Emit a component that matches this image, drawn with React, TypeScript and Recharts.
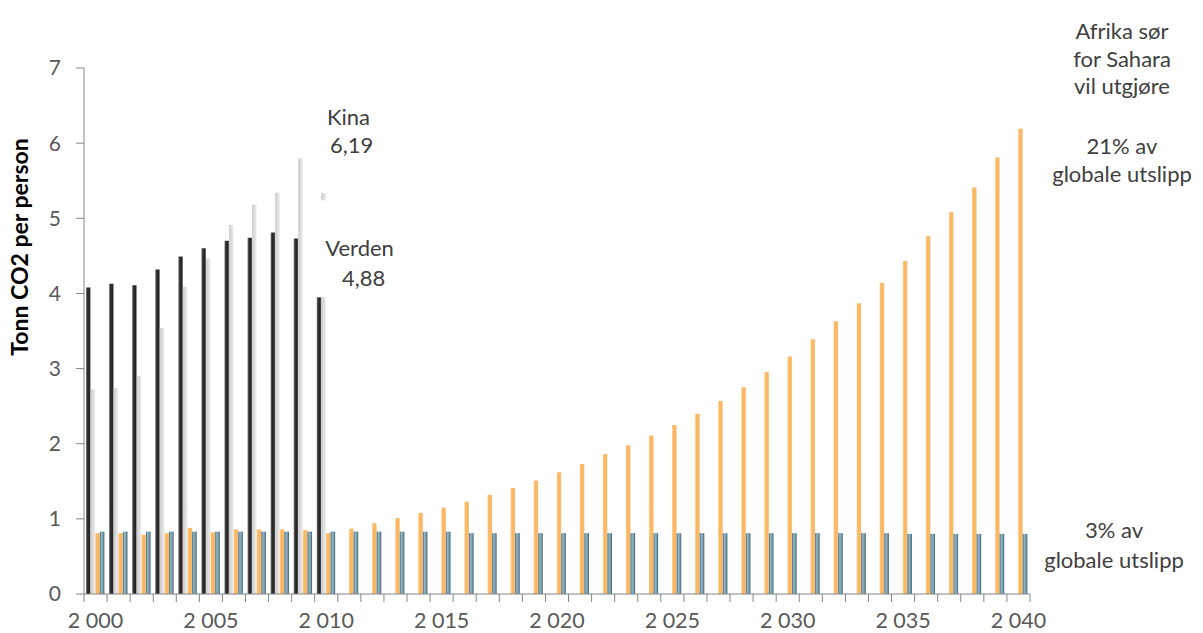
import React from 'react';
import { BarChart, Bar, XAxis, YAxis, LabelList } from 'recharts';

// Years on the category axis
const years = [
  2000, 2001, 2002, 2003, 2004, 2005, 2006, 2007, 2008, 2009,
  2010, 2011, 2012, 2013, 2014, 2015, 2016, 2017, 2018, 2019,
  2020, 2021, 2022, 2023, 2024, 2025, 2026, 2027, 2028, 2029,
  2030, 2031, 2032, 2033, 2034, 2035, 2036, 2037, 2038, 2039,
  2040,
];

// Tonn CO2 per person, historical (2000–2010)
const verden = [4.08, 4.13, 4.11, 4.32, 4.49, 4.6, 4.7, 4.74, 4.81, 4.73, 4.88];
const kina = [2.72, 2.74, 2.9, 3.54, 4.09, 4.46, 4.91, 5.18, 5.34, 5.8, 6.19];

// Afrika sør for Sahara: growth path towards Kina's level
const afrikaVekst = [
  0.81, 0.81, 0.79, 0.81, 0.88, 0.82, 0.86, 0.86, 0.86, 0.85,
  0.81, 0.87, 0.94, 1.01, 1.08, 1.15, 1.23, 1.32, 1.41, 1.51,
  1.62, 1.73, 1.86, 1.98, 2.11, 2.25, 2.4, 2.57, 2.75, 2.95,
  3.16, 3.39, 3.63, 3.87, 4.14, 4.43, 4.76, 5.08, 5.41, 5.81,
  6.19,
];

// Afrika sør for Sahara: today's level held flat
const afrikaFlat = [
  0.83, 0.83, 0.83, 0.83, 0.83, 0.83, 0.83, 0.83, 0.83, 0.83,
  0.83, 0.83, 0.83, 0.83, 0.83, 0.83, 0.81, 0.81, 0.81, 0.81,
  0.81, 0.81, 0.81, 0.81, 0.81, 0.81, 0.81, 0.81, 0.81, 0.81,
  0.81, 0.81, 0.81, 0.81, 0.81, 0.8, 0.8, 0.8, 0.8, 0.8,
  0.8,
];

const yTicks = [0, 1, 2, 3, 4, 5, 6, 7];
const labelYears = [2000, 2005, 2010, 2015, 2020, 2025, 2030, 2035, 2040];

const data = years.map((year, i) => ({
  year,
  verden: verden[i] ?? null,
  kina: kina[i] ?? null,
  afrikaVekst: afrikaVekst[i],
  afrikaFlat: afrikaFlat[i],
}));

const W = 1203;
const H = 633;
const M = { top: 68, right: 173, bottom: 9, left: 0 };
const Y_W = 84;
const X_H = 30;
const BAND = (W - M.right - M.left - Y_W) / years.length;

const FONT = 'Lato, "Open Sans", sans-serif';
const AXIS = '#868686';
const TEXT = '#404040';

const fmt = (v: number) => v.toFixed(2).replace('.', ',');
const fmtYear = (y: number) => {
  const s = String(y);
  return `${s.slice(0, 1)} ${s.slice(1)}`;
};

const XTick = (props: any) => {
  const { x, y, payload, index } = props;
  const left = x - BAND / 2;
  const right = x + BAND / 2;
  const isLast = index === years.length - 1;
  return (
    <g>
      <line x1={left} x2={left} y1={y} y2={y + 8} stroke={AXIS} strokeWidth={1} />
      {isLast && <line x1={right} x2={right} y1={y} y2={y + 8} stroke={AXIS} strokeWidth={1} />}
      {labelYears.includes(payload.value) && (
        <text x={x} y={y + 34} textAnchor="middle" fill="#595959" fontSize={21.5} fontFamily={FONT}>
          {fmtYear(payload.value)}
        </text>
      )}
    </g>
  );
};

// Value call-outs for Kina and Verden in 2010, drawn on the top-most series
const Callouts = (props: any) => {
  const { x, y, height, value, index } = props;
  if (years[index] !== 2010 || !value) return null;
  const base = y + height;
  const perUnit = height / value;
  const yOf = (v: number) => base - v * perUnit;
  const kTop = yOf(kina[index]);
  const vTop = yOf(verden[index]);
  const boxL = x - 15;
  return (
    <g fontFamily={FONT} fontSize={22} fill={TEXT}>
      <rect x={boxL} y={kTop - 29} width={85} height={93} fill="#ffffff" />
      <rect x={boxL} y={vTop - 27} width={88} height={97} fill="#ffffff" />
      <text x={x + 18} y={kTop - 4} textAnchor="middle">Kina</text>
      <text x={x + 21} y={kTop + 24} textAnchor="middle">{fmt(kina[index])}</text>
      <text x={x + 29} y={vTop + 29} textAnchor="middle">Verden</text>
      <text x={x + 33} y={vTop + 59} textAnchor="middle">{fmt(verden[index])}</text>
    </g>
  );
};

export default function App() {
  return (
    <div style={{ position: 'absolute', left: 0, top: 0, width: W, height: H, background: '#fff', fontFamily: FONT }}>
      <BarChart
        width={W}
        height={H}
        data={data}
        margin={M}
        barCategoryGap="10%"
        barGap={0}
        barSize={4.6}
      >
        <defs>
          <linearGradient id="gVerden" x1="0" y1="0" x2="1" y2="0">
            <stop offset="0%" stopColor="#8a8a8a" />
            <stop offset="30%" stopColor="#303030" />
            <stop offset="75%" stopColor="#262626" />
            <stop offset="100%" stopColor="#7a7a7a" />
          </linearGradient>
          <linearGradient id="gKina" x1="0" y1="0" x2="1" y2="0">
            <stop offset="0%" stopColor="#cbcbcb" />
            <stop offset="50%" stopColor="#dcdcdc" />
            <stop offset="100%" stopColor="#efefef" />
          </linearGradient>
          <linearGradient id="gVekst" x1="0" y1="0" x2="1" y2="0">
            <stop offset="0%" stopColor="#fdd29d" />
            <stop offset="30%" stopColor="#fbb862" />
            <stop offset="75%" stopColor="#fbb862" />
            <stop offset="100%" stopColor="#f5c48c" />
          </linearGradient>
          <linearGradient id="gFlat" x1="0" y1="0" x2="1" y2="0">
            <stop offset="0%" stopColor="#4d6a78" />
            <stop offset="35%" stopColor="#8fb4c5" />
            <stop offset="65%" stopColor="#7ba2b4" />
            <stop offset="100%" stopColor="#3f5d6b" />
          </linearGradient>
        </defs>
        <XAxis
          dataKey="year"
          height={X_H}
          interval={0}
          tickLine={false}
          tickSize={0}
          tickMargin={0}
          axisLine={{ stroke: AXIS }}
          tick={<XTick />}
        />
        <YAxis
          width={Y_W}
          domain={[0, 7]}
          ticks={yTicks}
          interval={0}
          tickSize={8}
          tickMargin={15}
          axisLine={{ stroke: AXIS }}
          tickLine={{ stroke: AXIS }}
          tick={{ fill: '#595959', fontSize: 21, fontFamily: FONT }}
        />
        <Bar dataKey="verden" name="Verden" fill="url(#gVerden)" isAnimationActive={false} />
        <Bar dataKey="kina" name="Kina" fill="url(#gKina)" isAnimationActive={false} />
        <Bar dataKey="afrikaVekst" name="Afrika sør for Sahara (vekst)" fill="url(#gVekst)" isAnimationActive={false} />
        <Bar dataKey="afrikaFlat" name="Afrika sør for Sahara" fill="url(#gFlat)" isAnimationActive={false}>
          <LabelList dataKey="afrikaFlat" content={<Callouts />} />
        </Bar>
      </BarChart>
      <svg width={W} height={H} style={{ position: 'absolute', left: 0, top: 0, pointerEvents: 'none' }}>
        <text
          transform="translate(28 247) rotate(-90)"
          textAnchor="middle"
          fontFamily={FONT}
          fontWeight="bold"
          fontSize={23}
          fill="#000"
        >
          Tonn CO2 per person
        </text>
        <g fontFamily={FONT} fontSize={22} fill={TEXT} textAnchor="middle">
          <text x={1122} y={39}>Afrika sør</text>
          <text x={1122} y={67}>for Sahara</text>
          <text x={1122} y={94}>vil utgjøre</text>
          <text x={1122} y={154}>21% av</text>
          <text x={1122} y={182}>globale utslipp</text>
          <text x={1114} y={538}>3% av</text>
          <text x={1114} y={568}>globale utslipp</text>
        </g>
      </svg>
    </div>
  );
}
